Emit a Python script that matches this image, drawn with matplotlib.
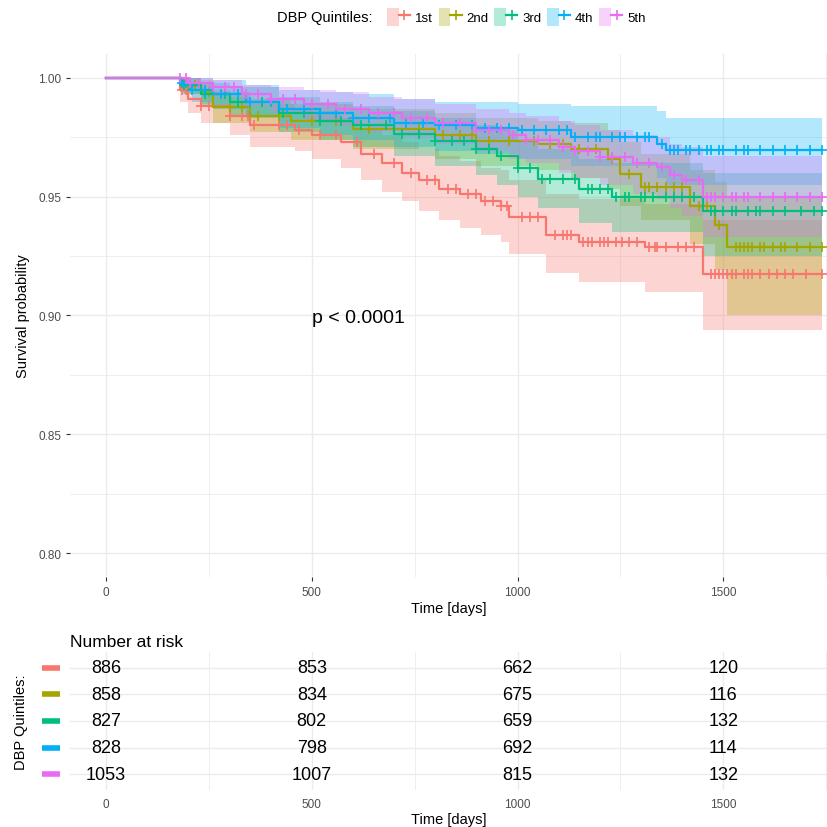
import numpy as np
import matplotlib
matplotlib.use("Agg")
import matplotlib.pyplot as plt
from matplotlib.patches import Patch
from matplotlib.lines import Line2D
from matplotlib.legend_handler import HandlerTuple
import matplotlib.transforms as mtransforms

plt.rcParams["font.family"] = ["Liberation Sans", "DejaVu Sans"]

# group names / colours (ggplot hue palette)
groups = ["1st", "2nd", "3rd", "4th", "5th"]
colors = ["#F8766D", "#A3A500", "#00BF7D", "#00B0F6", "#E76BF3"]
t_end = 1740

# 1st quintile: step times, survival, CI
t1 = [0, 180, 200, 230, 300, 350, 460, 500, 570, 620, 670, 720, 760, 810, 860, 910, 960, 980, 1070, 1150, 1310, 1450]
s1 = [1.0, 0.995, 0.991, 0.988, 0.984, 0.980, 0.978, 0.976, 0.973, 0.968, 0.964, 0.960, 0.957, 0.953, 0.951, 0.948, 0.946, 0.9415, 0.934, 0.931, 0.929, 0.9175]
lo1 = [1.0, 0.990, 0.985, 0.981, 0.976, 0.971, 0.969, 0.966, 0.962, 0.957, 0.952, 0.948, 0.944, 0.940, 0.937, 0.934, 0.931, 0.926, 0.918, 0.914, 0.910, 0.894]
hi1 = [1.0, 1.0, 0.997, 0.995, 0.992, 0.989, 0.987, 0.986, 0.983, 0.979, 0.976, 0.973, 0.970, 0.967, 0.965, 0.962, 0.961, 0.957, 0.951, 0.949, 0.947, 0.940]
c1 = [185, 195, 230, 250, 300, 330, 345, 360, 420, 440, 470, 520, 560, 610, 650, 700, 740, 780, 800, 830,
      850, 880, 900, 920, 940, 960, 975, 1010, 1030, 1050, 1090, 1110, 1120, 1130, 1160, 1170, 1180, 1200,
      1210, 1220, 1240, 1255, 1270, 1290, 1320, 1335, 1340, 1360, 1390, 1410, 1430, 1470, 1480, 1490, 1500,
      1510, 1520, 1530, 1550, 1560, 1570, 1590, 1610, 1630, 1650, 1670, 1700, 1740]

# 2nd quintile
t2 = [0, 190, 230, 260, 350, 450, 600, 800, 900, 1050, 1130, 1220, 1250, 1300, 1420, 1480, 1510]
s2 = [1.0, 0.997, 0.994, 0.9875, 0.984, 0.982, 0.9785, 0.976, 0.9735, 0.972, 0.970, 0.966, 0.9595, 0.954, 0.946, 0.938, 0.929]
lo2 = [1.0, 0.993, 0.989, 0.981, 0.977, 0.974, 0.970, 0.966, 0.963, 0.961, 0.958, 0.953, 0.946, 0.940, 0.930, 0.919, 0.900]
hi2 = [1.0, 1.0, 0.999, 0.994, 0.991, 0.989, 0.987, 0.985, 0.983, 0.982, 0.981, 0.978, 0.973, 0.968, 0.961, 0.956, 0.950]
c2 = [200, 215, 250, 300, 330, 370, 420, 500, 560, 640, 700, 760, 820, 860, 890, 930, 980, 1040, 1080,
      1110, 1150, 1190, 1230, 1270, 1310, 1320, 1340, 1360, 1380, 1400, 1440, 1460, 1490, 1530, 1540,
      1550, 1560, 1570, 1590, 1600, 1620, 1640, 1650, 1680, 1710, 1740]

# 3rd quintile
t3 = [0, 185, 230, 300, 420, 520, 600, 700, 800, 900, 950, 1000, 1050, 1150, 1230, 1450]
s3 = [1.0, 0.997, 0.993, 0.990, 0.985, 0.982, 0.980, 0.9765, 0.9735, 0.970, 0.967, 0.962, 0.9575, 0.953, 0.950, 0.944]
lo3 = [1.0, 0.993, 0.988, 0.984, 0.977, 0.974, 0.971, 0.967, 0.963, 0.959, 0.955, 0.950, 0.945, 0.939, 0.935, 0.925]
hi3 = [1.0, 1.0, 0.998, 0.996, 0.992, 0.990, 0.988, 0.986, 0.983, 0.980, 0.978, 0.974, 0.970, 0.966, 0.964, 0.960]
c3 = [190, 205, 240, 290, 320, 380, 430, 480, 520, 570, 620, 680, 720, 760, 800, 840, 870, 900, 930, 960,
      1000, 1030, 1060, 1080, 1110, 1140, 1170, 1180, 1200, 1220, 1240, 1260, 1270, 1300, 1310, 1330, 1360,
      1380, 1400, 1430, 1470, 1480, 1500, 1520, 1530, 1560, 1580, 1590, 1620, 1650, 1690, 1720, 1740]

# 4th quintile
t4 = [0, 180, 210, 260, 340, 420, 520, 600, 700, 800, 900, 1000, 1130, 1340, 1360]
s4 = [1.0, 0.998, 0.995, 0.993, 0.990, 0.987, 0.985, 0.983, 0.981, 0.980, 0.979, 0.978, 0.975, 0.972, 0.9695]
lo4 = [1.0, 0.994, 0.990, 0.987, 0.983, 0.979, 0.976, 0.974, 0.971, 0.969, 0.968, 0.966, 0.963, 0.958, 0.955]
hi4 = [1.0, 1.0, 1.0, 0.999, 0.997, 0.995, 0.994, 0.993, 0.991, 0.990, 0.990, 0.989, 0.988, 0.986, 0.983]
c4 = [185, 195, 210, 240, 280, 320, 350, 400, 440, 480, 520, 560, 600, 640, 690, 730, 770, 810, 850, 890,
      920, 950, 980, 1010, 1040, 1070, 1100, 1120, 1140, 1170, 1190, 1200, 1230, 1250, 1260, 1290, 1310,
      1320, 1350, 1370, 1380, 1390, 1410, 1420, 1440, 1460, 1470, 1490, 1500, 1530, 1550, 1560, 1590,
      1620, 1650, 1680, 1710, 1740]

# 5th quintile
t5 = [0, 200, 260, 330, 400, 480, 560, 640, 720, 800, 900, 980, 1020, 1100, 1140, 1200, 1280, 1340, 1370, 1400, 1450]
s5 = [1.0, 0.998, 0.996, 0.993, 0.991, 0.989, 0.987, 0.985, 0.983, 0.981, 0.978, 0.976, 0.974, 0.971, 0.969, 0.9665, 0.964, 0.9625, 0.959, 0.957, 0.950]
lo5 = [1.0, 0.995, 0.992, 0.988, 0.985, 0.982, 0.980, 0.977, 0.975, 0.972, 0.969, 0.966, 0.964, 0.960, 0.958, 0.955, 0.951, 0.949, 0.945, 0.942, 0.933]
hi5 = [1.0, 1.0, 0.999, 0.997, 0.996, 0.995, 0.994, 0.992, 0.991, 0.989, 0.987, 0.985, 0.984, 0.982, 0.980, 0.978, 0.976, 0.975, 0.972, 0.971, 0.967]
c5 = [180, 195, 205, 225, 260, 290, 310, 340, 370, 400, 430, 460, 500, 540, 580, 620, 660, 700, 740, 780,
      820, 860, 900, 930, 960, 990, 1020, 1050, 1080, 1110, 1140, 1170, 1200, 1230, 1260, 1290, 1320,
      1350, 1380, 1410, 1440, 1460, 1470, 1480, 1500, 1520, 1530, 1550, 1560, 1590, 1620, 1650, 1680,
      1710, 1740]

# number at risk table
risk_times = [0, 500, 1000, 1500]
risk1 = [886, 853, 662, 120]
risk2 = [858, 834, 675, 116]
risk3 = [827, 802, 659, 132]
risk4 = [828, 798, 692, 114]
risk5 = [1053, 1007, 815, 132]

curves = [(t1, s1, lo1, hi1, c1), (t2, s2, lo2, hi2, c2), (t3, s3, lo3, hi3, c3),
          (t4, s4, lo4, hi4, c4), (t5, s5, lo5, hi5, c5)]
risks = [risk1, risk2, risk3, risk4, risk5]

grid_col = "#EBEBEB"
tick_col = "#4D4D4D"

fig = plt.figure(figsize=(8.27, 8.28), dpi=100)
xlim = (-87.5, 1752)

# ---- survival curves ----
ax = fig.add_axes([0.0847, 0.302, 1 - 0.0847, 0.9336 - 0.302])
for (t, s, lo, hi, cens), col in zip(curves, colors):
    tt = np.append(t, t_end)
    ax.fill_between(tt, np.append(lo, lo[-1]), np.append(hi, hi[-1]), step="post",
                    color=col, alpha=0.3, linewidth=0)
for (t, s, lo, hi, cens), col in zip(curves, colors):
    tt = np.append(t, t_end)
    ss = np.append(s, s[-1])
    ax.step(tt, ss, where="post", color=col, lw=1.6)
    idx = np.searchsorted(t, cens, side="right") - 1
    ax.plot(cens, np.array(s)[idx], ls="none", marker="+", ms=7, mew=1.2, color=col)

ax.set_xlim(*xlim)
ax.set_ylim(0.79, 1.01)
ax.set_xticks([0, 500, 1000, 1500])
ax.set_xticks([250, 750, 1250, 1750], minor=True)
ax.set_yticks([0.80, 0.85, 0.90, 0.95, 1.00])
ax.set_yticks([0.825, 0.875, 0.925, 0.975], minor=True)
ax.set_yticklabels(["0.80", "0.85", "0.90", "0.95", "1.00"])
ax.grid(True, which="major", color=grid_col, lw=1.0)
ax.grid(True, which="minor", color=grid_col, lw=0.6)
ax.set_axisbelow(True)
for sp in ax.spines.values():
    sp.set_visible(False)
ax.tick_params(which="major", length=3, color="#333333", labelsize=8.5, labelcolor=tick_col)
ax.tick_params(which="minor", length=0)
ax.set_xlabel("Time [days]", fontsize=10.5, labelpad=2)
ax.set_ylabel("Survival probability", fontsize=10.5, labelpad=6)
ax.text(500, 0.899, "p < 0.0001", fontsize=14, ha="left", va="center")

# ---- legend on top ----
fig.text(277 / 827, 1 - 18 / 828, "DBP Quintiles:", fontsize=10.5, ha="left", va="center")
handles = [(Patch(facecolor=c, alpha=0.3, edgecolor="none"),
            Line2D([], [], color=c, lw=1.6, marker="+", ms=7, mew=1.2)) for c in colors]
fig.legend(handles, groups, handler_map={tuple: HandlerTuple(ndivide=None, pad=0)},
           loc="center left", bbox_to_anchor=(387 / 827, 1 - 18 / 828), ncol=5, frameon=False,
           fontsize=9.5, handlelength=1.75, handleheight=1.75, handletextpad=0.35,
           columnspacing=0.45, borderpad=0, borderaxespad=0)

# ---- risk table ----
axr = fig.add_axes([0.0847, 0.0447, 1 - 0.0847, 0.1667])
rows = np.arange(len(groups))[::-1]
for row, vals, col in zip(rows, risks, colors):
    for tm, v in zip(risk_times, vals):
        axr.text(tm, row, str(v), fontsize=13, ha="center", va="center")
axr.set_xlim(*xlim)
axr.set_ylim(-0.6, len(groups) - 0.4)
axr.set_xticks([0, 500, 1000, 1500])
axr.set_xticks([250, 750, 1250, 1750], minor=True)
axr.set_yticks(rows)
axr.set_yticklabels([])
axr.grid(True, which="major", color=grid_col, lw=1.0)
axr.grid(True, which="minor", axis="x", color=grid_col, lw=0.6)
axr.set_axisbelow(True)
for sp in axr.spines.values():
    sp.set_visible(False)
axr.tick_params(which="both", length=0, labelsize=8.5, labelcolor=tick_col, pad=6)
axr.set_xlabel("Time [days]", fontsize=10.5, labelpad=1)
axr.set_ylabel("DBP Quintiles:", fontsize=10.5, labelpad=24)
trans = mtransforms.blended_transform_factory(axr.transAxes, axr.transData)
for row, col in zip(rows, colors):
    axr.plot([-0.037, -0.013], [row, row], color=col, lw=4, transform=trans, clip_on=False,
             solid_capstyle="butt")
axr.set_title("Number at risk", fontsize=12.5, loc="left", pad=4)

fig.savefig("out.png", dpi=100)
